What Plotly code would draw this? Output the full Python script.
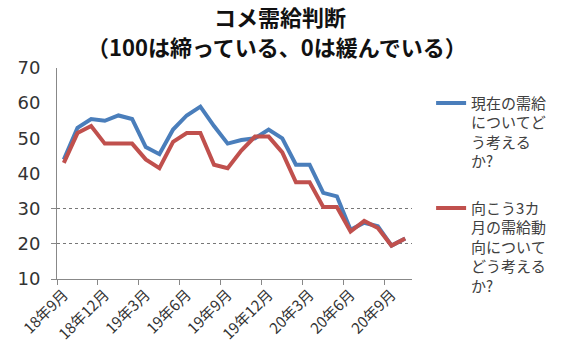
import plotly.graph_objects as go

months = ["18年9月", "18年10月", "18年11月", "18年12月", "19年1月", "19年2月", "19年3月",
          "19年4月", "19年5月", "19年6月", "19年7月", "19年8月", "19年9月", "19年10月",
          "19年11月", "19年12月", "20年1月", "20年2月", "20年3月", "20年4月", "20年5月",
          "20年6月", "20年7月", "20年8月", "20年9月", "20年10月"]
current = [44, 53, 55.5, 55, 56.5, 55.5, 47.5, 45.5, 52.5, 56.5, 59, 53.5, 48.5,
           49.5, 50, 52.5, 50, 42.5, 42.5, 34.5, 33.5, 24, 26, 25, 19.5, 21.5]
outlook = [43, 51.5, 53.5, 48.5, 48.5, 48.5, 44, 41.5, 49, 51.5, 51.5, 42.5, 41.5,
           46.5, 50.5, 50.5, 46, 37.5, 37.5, 30.5, 30.5, 23.5, 26.5, 24.5, 19.5, 21.5]
name_current = "現在の需給<br>についてど<br>う考える<br>か?"
name_outlook = "向こう3カ<br>月の需給動<br>向について<br>どう考える<br>か?"
title_line1 = "コメ需給判断"
title_line2 = "（100は締っている、0は緩んでいる）"
ytickvals = [10, 20, 30, 40, 50, 60, 70]
grid_vals = [10, 20, 30]
label_step = 3

idx = list(range(len(months)))

# plot area in pixels
L, R, T, B = 57, 159, 68, 75
W, H = 571, 354
pw, ph = W - L - R, H - T - B

fig = go.Figure()
fig.add_trace(go.Scatter(x=idx, y=current, mode="lines", name=name_current,
                         legendgroup="a",
                         line=dict(color="#4A7EBB", width=4)))
fig.add_trace(go.Scatter(x=idx, y=outlook, mode="lines", name=name_outlook,
                         legendgroup="b",
                         line=dict(color="#C0504D", width=4)))

title_font = dict(family="Noto Sans CJK JP", size=22, color="#111111", weight="bold")
fig.update_layout(
    width=W, height=H,
    margin=dict(l=L, r=R, t=T, b=B),
    paper_bgcolor="white", plot_bgcolor="white",
    font=dict(family="Noto Sans CJK JP", color="#333333"),
    showlegend=True,
    legend=dict(x=0.755, xref="container", xanchor="left",
                y=0.755, yref="container", yanchor="top",
                valign="top", tracegroupgap=24, maxheight=320,
                font=dict(family="Noto Sans CJK JP", size=15, color="#404040"),
                bgcolor="rgba(0,0,0,0)"),
    annotations=[
        dict(text=title_line1, xref="x domain", yref="y domain",
             x=(280 - L) / pw, y=(H - B - 16) / ph,
             xanchor="center", yanchor="middle", showarrow=False, font=title_font),
        dict(text=title_line2, xref="x domain", yref="y domain",
             x=(277 - L) / pw, y=(H - B - 46) / ph,
             xanchor="center", yanchor="middle", showarrow=False, font=title_font),
    ],
)

fig.update_xaxes(
    range=[-0.5, len(months) - 0.5],
    tickmode="array", tickvals=idx[::label_step], ticktext=months[::label_step],
    tickangle=-45, ticks="", showgrid=False, zeroline=False,
    showline=True, linecolor="#888888", linewidth=1,
    tickfont=dict(family="Noto Sans CJK JP", size=15, color="#333333"),
    minor=dict(tickmode="array",
               tickvals=[i - 0.5 for i in idx[::label_step]],
               ticks="outside", ticklen=5, tickcolor="#888888", showgrid=False),
)
fig.update_yaxes(
    range=[10, 70],
    tickmode="array", tickvals=ytickvals, ticks="", showgrid=False, zeroline=False,
    showline=True, linecolor="#888888", linewidth=1,
    ticklabelstandoff=12,
    tickfont=dict(family="DejaVu Sans", size=18, color="#333333"),
    minor=dict(tickmode="array", tickvals=grid_vals, ticks="outside", ticklen=5,
               tickcolor="#888888", showgrid=True, gridcolor="#777777",
               griddash="dot", gridwidth=1),
)

fig.write_html("out.html")
